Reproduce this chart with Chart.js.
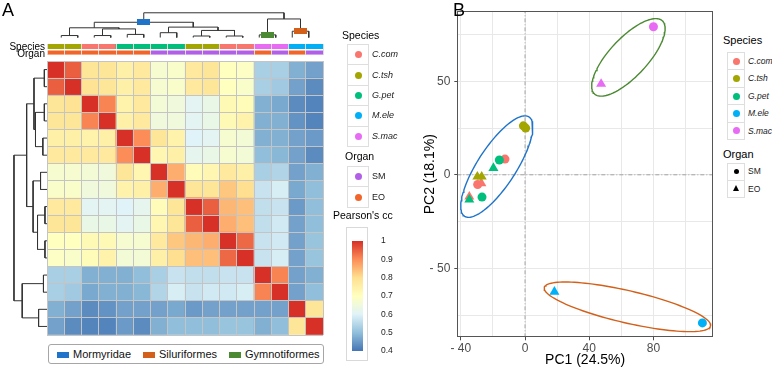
<!DOCTYPE html>
<html>
<head>
<meta charset="utf-8">
<script src="https://cdn.jsdelivr.net/npm/chart.js@4.4.1/dist/chart.umd.min.js"></script>
<style>
  html, body { margin:0; padding:0; background:#ffffff; }
  body { position:relative; width:772px; height:372px; overflow:hidden; font-family:"Liberation Sans", Arial, Helvetica, sans-serif; color:#000; }
  canvas { position:absolute; }
  .t { position:absolute; white-space:nowrap; line-height:1; }
  .box { position:absolute; box-sizing:border-box; }
</style>
</head>
<body>
<script>
// ======================= DATA =======================
const sampleSpecies = ['C.tsh','C.tsh','C.com','C.com','G.pet','G.pet','G.pet','G.pet','C.tsh','C.tsh','C.com','C.com','S.mac','S.mac','M.ele','M.ele'];
const sampleOrgan   = ['EO','EO','EO','EO','EO','EO','SM','SM','SM','SM','SM','SM','EO','SM','EO','SM'];
const corrRows = [
  [1.00,0.95,0.78,0.78,0.75,0.77,0.67,0.68,0.77,0.78,0.70,0.69,0.53,0.53,0.48,0.46],
  [0.95,1.00,0.79,0.78,0.75,0.77,0.67,0.68,0.77,0.78,0.70,0.68,0.53,0.52,0.46,0.43],
  [0.78,0.79,1.00,0.91,0.74,0.77,0.66,0.65,0.61,0.63,0.72,0.71,0.48,0.47,0.43,0.42],
  [0.78,0.78,0.91,1.00,0.75,0.77,0.65,0.65,0.61,0.63,0.72,0.74,0.48,0.48,0.44,0.42],
  [0.75,0.75,0.74,0.75,1.00,0.90,0.78,0.74,0.60,0.61,0.67,0.66,0.48,0.48,0.46,0.45],
  [0.77,0.77,0.77,0.77,0.90,1.00,0.73,0.75,0.62,0.63,0.67,0.66,0.50,0.49,0.46,0.43],
  [0.67,0.67,0.66,0.65,0.78,0.73,1.00,0.86,0.71,0.73,0.77,0.75,0.53,0.54,0.46,0.48],
  [0.68,0.68,0.65,0.65,0.74,0.75,0.86,1.00,0.78,0.78,0.83,0.80,0.57,0.59,0.47,0.50],
  [0.77,0.77,0.61,0.61,0.60,0.62,0.71,0.78,1.00,0.95,0.85,0.84,0.56,0.57,0.45,0.50],
  [0.78,0.78,0.63,0.63,0.61,0.63,0.73,0.78,0.95,1.00,0.86,0.84,0.56,0.58,0.46,0.50],
  [0.70,0.70,0.72,0.72,0.67,0.67,0.77,0.83,0.85,0.86,1.00,0.94,0.57,0.58,0.46,0.51],
  [0.69,0.68,0.71,0.74,0.66,0.66,0.75,0.80,0.84,0.84,0.94,1.00,0.57,0.59,0.46,0.51],
  [0.53,0.53,0.48,0.48,0.48,0.50,0.53,0.57,0.56,0.56,0.57,0.57,1.00,0.91,0.46,0.48],
  [0.53,0.52,0.47,0.48,0.48,0.49,0.54,0.59,0.57,0.58,0.58,0.59,0.91,1.00,0.46,0.50],
  [0.48,0.46,0.43,0.44,0.46,0.46,0.46,0.47,0.45,0.46,0.46,0.46,0.46,0.46,1.00,0.78],
  [0.46,0.43,0.42,0.42,0.45,0.43,0.48,0.50,0.50,0.50,0.51,0.51,0.48,0.50,0.78,1.00]
];
// hierarchical clustering merges: [child A, child B, height]; leaves are 0..15, merged nodes 16..30
const dendroMerges = [
  [0,1,3.0],[2,3,3.0],[4,5,4.7],[17,18,13.0],[16,19,14.7],
  [6,7,7.3],[8,9,2.3],[10,11,2.3],[22,23,10.7],[21,24,15.7],
  [20,25,23.0],[12,13,4.0],[14,15,9.5],[27,28,28.0],[26,29,37.3]
];
const cladeNames = ['Mormyridae','Siluriformes','Gymnotiformes'];
const cladeNodes = [26, 28, 27];
const corrTicks = [0.4,0.5,0.6,0.7,0.8,0.9,1.0];

const speciesNames = ['C.com','C.tsh','G.pet','M.ele','S.mac'];
const organNames = ['SM','EO'];
const pcaSpecies = ['C.com','C.com','C.com','C.com','C.tsh','C.tsh','C.tsh','C.tsh','G.pet','G.pet','G.pet','G.pet','M.ele','M.ele','S.mac','S.mac'];
const pcaOrgan   = ['SM','SM','EO','EO','SM','SM','EO','EO','SM','SM','EO','EO','EO','SM','EO','SM'];
const pc1 = [-12.5,-29.5,-27.2,-34.7,-1.0,0.4,-29.7,-27.0,-16.0,-26.8,-19.7,-34.7,18.3,110.5,47.4,80.0];
const pc2 = [8.4,-5.2,-4.5,-11.7,26.2,25.0,-1.0,-1.0,7.9,-11.9,3.6,-13.3,-62.6,-79.2,48.6,79.2];
const pc1Grid = [-40,-20,0,20,40,60,80,100];
const pc2Grid = [-75,-50,-25,0,25,50,75];
const pc1Labels = [-40,0,40,80];
const pc2Labels = [-50,0,50];
const pc1Range = [-42.2,117.1];
const pc2Range = [-86.9,87.5];
// group ellipses: centre and two half-axis vectors (PC units)
const ellipseClade  = ['Mormyridae','Gymnotiformes','Siluriformes'];
const ellipseCenter = [[-17.6,4.4],[64.4,62.8],[63.8,-70.6]];
const ellipseAxisA  = [[20.0,26.6],[21.1,19.6],[51.8,-10.3]];
const ellipseAxisB  = [[10.2,-5.4],[8.86,-6.77],[-2.35,-8.37]];

// ======================= STYLE =======================
const speciesColor = {'C.com':'#F8766D','C.tsh':'#A3A500','G.pet':'#00BF7D','M.ele':'#00B0F6','S.mac':'#E76BF3'};
const organColor = {SM:'#B15FE6', EO:'#F2652A'};
const cladeColor = {Mormyridae:'#1F74C9', Siluriformes:'#D2601A', Gymnotiformes:'#4B8A32'};
const corrStops = ['#4575B4','#91BFDB','#E0F3F8','#FFFFBF','#FEE090','#FC8D59','#D73027'];
const FONT = '"Liberation Sans", Arial, Helvetica, sans-serif';
Chart.defaults.font.family = FONT;
Chart.defaults.animation = false;
Chart.defaults.events = [];
Chart.defaults.plugins.legend.display = false;
Chart.defaults.plugins.tooltip.enabled = false;

function hexRgb(h){ return [1,3,5].map(i=>parseInt(h.substr(i,2),16)); }
function corrColor(v){
  const lo = corrTicks[0], hi = corrTicks[corrTicks.length-1];
  let t = (Math.min(hi, Math.max(lo, v)) - lo) / (hi - lo) * (corrStops.length - 1);
  const i = Math.min(corrStops.length - 2, Math.floor(t)); const f = t - i;
  const a = hexRgb(corrStops[i]), b = hexRgb(corrStops[i+1]);
  const c = a.map((x,k)=>Math.round(x + (b[k]-x)*f));
  return `rgb(${c[0]},${c[1]},${c[2]})`;
}
function mkCanvas(left, top, w, h){
  const c = document.createElement('canvas');
  c.width = w; c.height = h;
  c.style.left = left + 'px'; c.style.top = top + 'px';
  c.style.width = w + 'px'; c.style.height = h + 'px';
  document.body.appendChild(c);
  return c;
}
function txt(s, left, cy, size, extra){
  const d = document.createElement('div');
  d.className = 't'; d.textContent = s;
  d.style.fontSize = size + 'px';
  d.style.top = (cy - size/2) + 'px';
  if (extra && extra.right !== undefined) d.style.right = (772 - extra.right) + 'px'; else d.style.left = left + 'px';
  if (extra && extra.italic) d.style.fontStyle = 'italic';
  if (extra && extra.color) d.style.color = extra.color;
  document.body.appendChild(d);
  return d;
}
function box(left, top, w, h, css){
  const d = document.createElement('div');
  d.className = 'box';
  Object.assign(d.style, {left:left+'px', top:top+'px', width:w+'px', height:h+'px'}, css || {});
  document.body.appendChild(d);
  return d;
}
const N = sampleSpecies.length;
const hiddenLinear = (min, max, reverse) => ({type:'linear', display:false, min, max, reverse: !!reverse});

// ======================= PANEL A : heatmap =======================
const heatDatasets = [];
for (let r = N - 1; r >= 0; r--) {
  heatDatasets.push({
    label: 'row ' + (r+1),
    data: corrRows[r].map(() => 1),
    backgroundColor: corrRows[r].map(corrColor),
    borderWidth: 0, barPercentage: 1, categoryPercentage: 1, stack: 'h'
  });
}
new Chart(mkCanvas(46, 60, 278, 276), {
  type: 'bar',
  data: { labels: sampleSpecies.map((s,i)=>s+' '+sampleOrgan[i]+' '+(i+1)), datasets: heatDatasets },
  options: {
    responsive:false, layout:{padding:1},
    scales: {
      x: { stacked:true, offset:true, grid:{offset:true, color:'#c4c4c4', lineWidth:1, drawTicks:false, z:1}, border:{display:false}, ticks:{display:false} },
      y: { stacked:true, min:0, max:N, grid:{color:'#c4c4c4', lineWidth:1, drawTicks:false, z:1}, border:{display:false}, ticks:{display:false, stepSize:1} }
    }
  }
});

// annotation bars (Organ bottom row, Species top row)
new Chart(mkCanvas(46, 44, 278, 11), {
  type: 'bar',
  data: { labels: sampleSpecies.map((s,i)=>String(i+1)), datasets: [
    { label:'Organ', data: sampleOrgan.map(()=>1), backgroundColor: sampleOrgan.map(o=>organColor[o]), borderWidth:0, barPercentage:1, categoryPercentage:1, stack:'a' },
    { label:'Species', data: sampleSpecies.map(()=>1), backgroundColor: sampleSpecies.map(s=>speciesColor[s]), borderWidth:0, barPercentage:1, categoryPercentage:1, stack:'a' }
  ]},
  options: {
    responsive:false, layout:{padding:{left:1,right:1,top:0,bottom:0}},
    scales: {
      x: { stacked:true, offset:true, grid:{offset:true, color:'#dcdcdc', lineWidth:1, drawTicks:false, z:1}, border:{display:false}, ticks:{display:false} },
      y: { stacked:true, min:0, max:2, grid:{color: c => c.tick.value === 1 ? '#ffffff' : 'rgba(0,0,0,0)', lineWidth:1.5, drawTicks:false, z:1}, border:{display:false}, ticks:{display:false, stepSize:1} }
    }
  }
});

// dendrogram layout from merges
function dendroLayout(merges, n){
  const pos = [], ht = [];
  for (let i = 0; i < n; i++) { pos[i] = i + 0.5; ht[i] = 0; }
  const segs = [];
  merges.forEach((m, k) => {
    const id = n + k, a = m[0], b = m[1], h = m[2];
    pos[id] = (pos[a] + pos[b]) / 2; ht[id] = h;
    segs.push([[pos[a], ht[a]], [pos[a], h], [pos[b], h], [pos[b], ht[b]]]);
  });
  return {pos, ht, segs};
}
const dendro = dendroLayout(dendroMerges, N);
function rectImage(w, h, color){
  const c = document.createElement('canvas'); c.width = w; c.height = h;
  const g = c.getContext('2d'); g.fillStyle = color; g.fillRect(0,0,w,h);
  return c;
}
// top (column) dendrogram
const topSets = dendro.segs.map(s => ({
  data: s.map(p => ({x:p[0], y:p[1]})), showLine:true, pointRadius:0, borderColor:'#333333', borderWidth:1, tension:0, order:2
}));
cladeNames.forEach((cl, k) => {
  const node = cladeNodes[k];
  topSets.push({ data:[{x:dendro.pos[node], y:dendro.ht[node]}], showLine:false, pointStyle: rectImage(13, 6, cladeColor[cl]), pointRadius:6, order:1 });
});
new Chart(mkCanvas(46, 4, 278, 41), {
  type: 'scatter', data: { datasets: topSets },
  options: { responsive:false, layout:{padding:{left:1,right:1,top:0,bottom:0}}, scales: { x: hiddenLinear(0, N), y: hiddenLinear(-0.7, 40) } }
});
// left (row) dendrogram
new Chart(mkCanvas(10, 60, 38, 276), {
  type: 'scatter',
  data: { datasets: dendro.segs.map(s => ({ data: s.map(p => ({x:p[1], y:p[0]})), showLine:true, pointRadius:0, borderColor:'#333333', borderWidth:1, tension:0 })) },
  options: { responsive:false, layout:{padding:{left:0,right:1,top:1,bottom:1}}, scales: { x: hiddenLinear(0, 41.8, true), y: hiddenLinear(0, N, true) } }
});

// colour bar
box(346, 227, 22, 134, {border:'1px solid #d9d9d9'});
new Chart(mkCanvas(352, 226, 42, 140), {
  type: 'bar',
  data: { labels:['cc'], datasets:[{
    data: [[corrTicks[0], corrTicks[corrTicks.length-1]]],
    backgroundColor: ctx => {
      const ch = ctx.chart; if (!ch.chartArea) return corrStops[3];
      const ys = ch.scales.y;
      const g = ch.ctx.createLinearGradient(0, ys.getPixelForValue(corrTicks[0]), 0, ys.getPixelForValue(corrTicks[corrTicks.length-1]));
      corrStops.forEach((c,i)=>g.addColorStop(i/(corrStops.length-1), c));
      return g;
    },
    borderWidth:0, barPercentage:1, categoryPercentage:1
  }]},
  options: {
    responsive:false, layout:{padding:{top:6.5,bottom:11,left:0,right:0}},
    scales: {
      x: { display:false },
      y: { position:'right', min:corrTicks[0], max:corrTicks[corrTicks.length-1], afterFit: s => { s.width = 31; },
           afterBuildTicks: s => { s.ticks = corrTicks.map(v => ({value:v})); },
           grid:{display:false}, border:{display:false},
           ticks:{ padding:10, color:'#222', font:{size:8.5}, callback: v => (Math.abs(v-1)<1e-6 ? '1' : v.toFixed(1)) } }
    }
  }
});

// ---------- Panel A texts & legends ----------
txt('A', 2, 10, 18);
txt('Species', 0, 47, 10, {right:45});
txt('Organ', 0, 53.5, 10, {right:45});
txt('Species', 342, 35.5, 10.5);
speciesNames.forEach((sp, i) => {
  const top = 44 + i*20.4;
  box(347, top, 22, 21.4, {border:'1px solid #dedede'});
  box(354.5, top + 7.2, 7, 7, {background:speciesColor[sp], borderRadius:'50%'});
  txt(sp, 372, top + 10.7, 9, {italic:true, color:'#1a1a1a'});
});
txt('Organ', 345, 156.5, 10.5);
organNames.forEach((o, i) => {
  const top = 166 + i*20.4;
  box(347, top, 22, 21.4, {border:'1px solid #dedede'});
  box(354.5, top + 7.2, 7, 7, {background:organColor[o], borderRadius:'50%'});
  txt(o, 372, top + 10.7, 9, {color:'#1a1a1a'});
});
txt("Pearson's cc", 333, 215.5, 10.5);
// clade legend box
box(48, 344, 276, 19.5, {border:'1px solid #a6a6a6', borderRadius:'3px'});
const cladeLegendX = [57, 143, 229];
cladeNames.forEach((cl, k) => {
  box(cladeLegendX[k], 352, 12, 5.5, {background:cladeColor[cl]});
  txt(cl, cladeLegendX[k] + 16, 354.5, 11, {color:'#111'});
});

// ======================= PANEL B : PCA =======================
const fmtSigned = v => v < 0 ? '- ' + Math.abs(v) : String(v);
const pcaDatasets = [
  { data:[{x:0,y:pc2Range[0]},{x:0,y:pc2Range[1]}], showLine:true, pointRadius:0, borderColor:'#a3a3a3', borderWidth:1, borderDash:[4,2,1,2], order:40 },
  { data:[{x:pc1Range[0],y:0},{x:pc1Range[1],y:0}], showLine:true, pointRadius:0, borderColor:'#a3a3a3', borderWidth:1, borderDash:[4,2,1,2], order:40 }
];
speciesNames.forEach((sp, si) => {
  const pts = [];
  pcaSpecies.forEach((s, i) => { if (s === sp) pts.push({x:pc1[i], y:pc2[i], organ:pcaOrgan[i]}); });
  pcaDatasets.push({
    label: sp, data: pts, showLine:false,
    backgroundColor: speciesColor[sp], borderColor: speciesColor[sp], borderWidth:0,
    pointStyle: c => (c.raw && c.raw.organ === 'EO') ? 'triangle' : 'circle',
    pointRadius: c => (c.raw && c.raw.organ === 'EO') ? 5.8 : 4.5,
    order: 20 - si
  });
});
ellipseCenter.forEach((c, k) => {
  const pts = [];
  const A = ellipseAxisA[k], B = ellipseAxisB[k];
  for (let j = 0; j <= 120; j++) {
    const t = 2 * Math.PI * j / 120;
    pts.push({x: c[0] + A[0]*Math.cos(t) + B[0]*Math.sin(t), y: c[1] + A[1]*Math.cos(t) + B[1]*Math.sin(t)});
  }
  pcaDatasets.push({ data: pts, showLine:true, pointRadius:0, borderColor: cladeColor[ellipseClade[k]], borderWidth:1.4, fill:false, tension:0, order:1 });
});
const frame = { id:'frame', afterDatasetsDraw(chart){
  const {ctx, chartArea:a} = chart; ctx.save();
  ctx.strokeStyle = '#555555'; ctx.lineWidth = 1;
  ctx.strokeRect(Math.round(a.left)+0.5, Math.round(a.top)+0.5, Math.round(a.right-a.left)-1, Math.round(a.bottom-a.top)-1);
  ctx.restore();
}};
new Chart(mkCanvas(410, 0, 310, 372), {
  type: 'scatter', data: { datasets: pcaDatasets }, plugins:[frame],
  options: {
    responsive:false, layout:{padding:{top:5,right:7,left:0,bottom:0}},
    scales: {
      x: { type:'linear', min:pc1Range[0], max:pc1Range[1], afterFit: s => { s.height = 34.7; },
           afterBuildTicks: s => { s.ticks = pc1Grid.map(v => ({value:v})); },
           ticks:{ autoSkip:false, maxRotation:0, color:'#4d4d4d', font:{size:12}, padding:1,
                   callback: v => pc1Labels.includes(v) ? fmtSigned(v) : '' },
           grid:{ color:'#e8e8e8', lineWidth:1, tickLength:3, drawTicks:true, tickColor: c => pc1Labels.includes(c.tick.value) ? '#4d4d4d' : 'rgba(0,0,0,0)' },
           border:{display:false},
           title:{ display:true, text:'PC1 (24.5%)', color:'#000', font:{size:14}, padding:{top:0,bottom:3} } },
      y: { type:'linear', min:pc2Range[0], max:pc2Range[1], afterFit: s => { s.width = 47.3; },
           afterBuildTicks: s => { s.ticks = pc2Grid.map(v => ({value:v})); },
           ticks:{ autoSkip:false, color:'#4d4d4d', font:{size:12}, padding:4,
                   callback: v => pc2Labels.includes(v) ? fmtSigned(v) : '' },
           grid:{ color:'#e8e8e8', lineWidth:1, tickLength:3, drawTicks:true, tickColor: c => pc2Labels.includes(c.tick.value) ? '#4d4d4d' : 'rgba(0,0,0,0)' },
           border:{display:false},
           title:{ display:true, text:'PC2 (18.1%)', color:'#000', font:{size:14}, padding:{top:11.6,bottom:0} } }
    }
  }
});

// ---------- Panel B texts & legends ----------
txt('B', 453, 10, 18);
txt('Species', 723, 40, 11);
speciesNames.forEach((sp, i) => {
  const top = 52 + i*17.4;
  box(727, top, 18, 18.4, {border:'1px solid #dedede'});
  box(732.5, top + 5.7, 7, 7, {background:speciesColor[sp], borderRadius:'50%'});
  txt(sp, 748, top + 9.2, 8.5, {italic:true, color:'#1a1a1a'});
});
txt('Organ', 723, 154, 11);
organNames.forEach((o, i) => {
  const top = 162.5 + i*17.4;
  box(727, top, 18, 18.4, {border:'1px solid #dedede'});
  if (o === 'SM') box(733.5, top + 6.7, 5, 5, {background:'#000', borderRadius:'50%'});
  else box(732.5, top + 5.5, 0, 0, {borderLeft:'3.5px solid transparent', borderRight:'3.5px solid transparent', borderBottom:'6.5px solid #000'});
  txt(o, 748, top + 9.2, 8.5, {color:'#1a1a1a'});
});
</script>
</body>
</html>
